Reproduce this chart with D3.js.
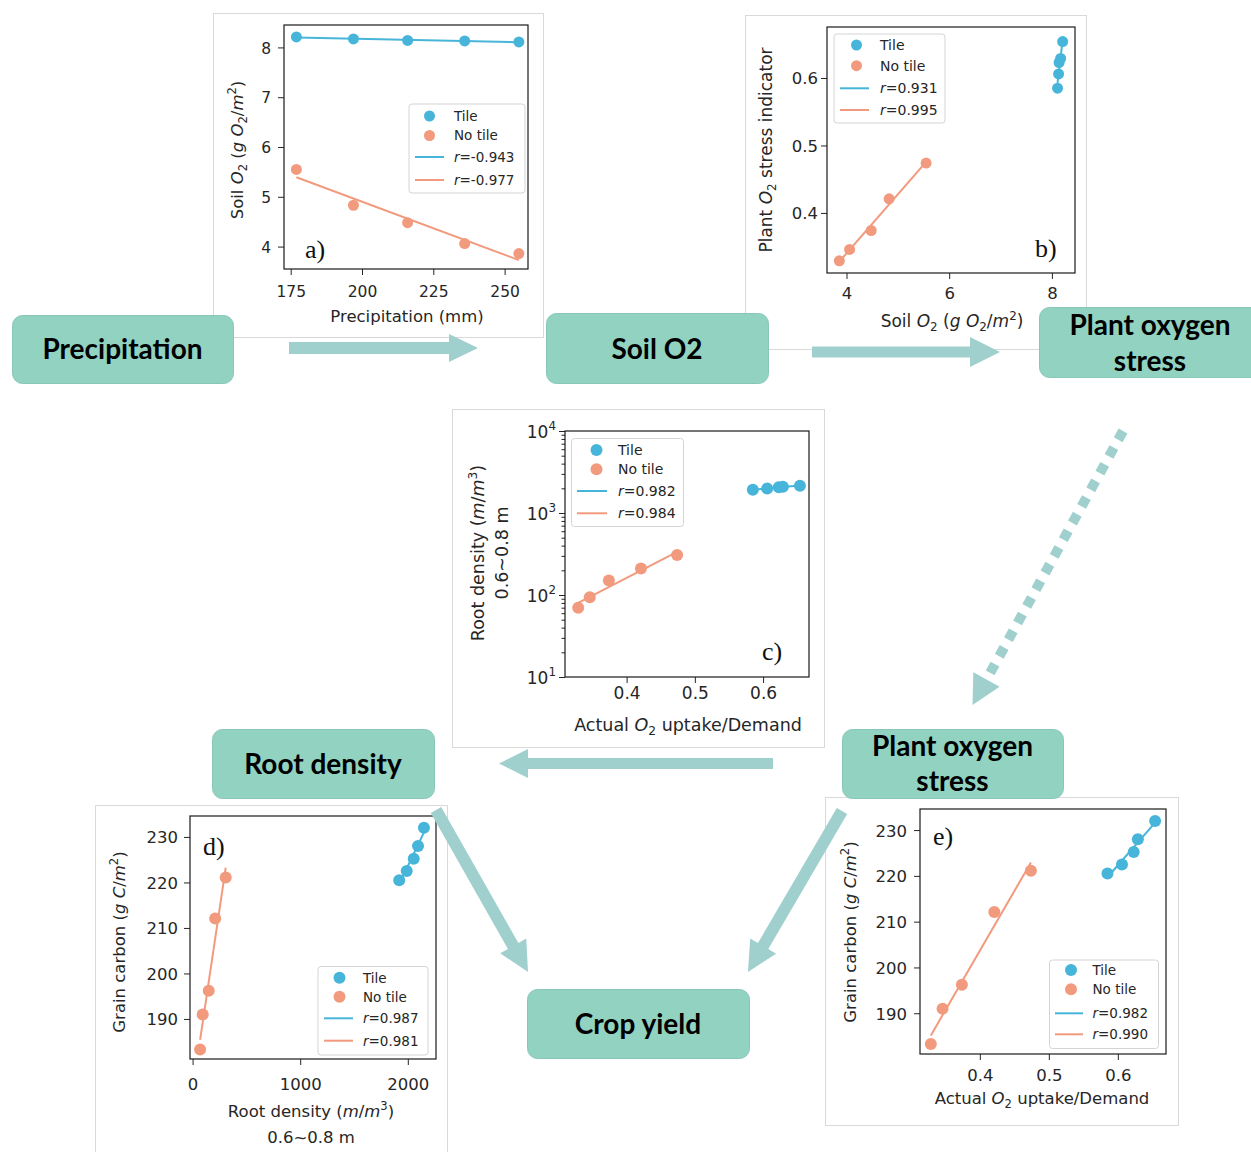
<!DOCTYPE html>
<html>
<head>
<meta charset="utf-8">
<script src="https://cdn.jsdelivr.net/npm/d3@7"></script>
<style>
	body { margin: 0; background: #fff; }
	svg { display: block; }
</style>
</head>
<body>
<div id="chart"></div>
<script>
/* global d3 */

// ---- data, every list in precipitation order ----
var precip       = [177, 197, 216, 236, 255];
var soilTile     = [8.21, 8.17, 8.14, 8.13, 8.11];
var soilNoTile   = [5.55, 4.83, 4.48, 4.06, 3.86];
var stressTile   = [0.654, 0.629, 0.623, 0.606, 0.585];
var stressNoTile = [0.474, 0.421, 0.374, 0.346, 0.329];
var rootTile     = [2150, 2095, 2055, 1990, 1920];
var rootNoTile   = [308, 210, 150, 94, 70];
var grainTile    = [232.0, 228.0, 225.2, 222.5, 220.5];
var grainNoTile  = [221.1, 212.1, 196.2, 191.0, 183.3];

var seriesNames = ['Tile', 'No tile'];
var rA = ['-0.943', '-0.977'];
var rB = ['0.931', '0.995'];
var rC = ['0.982', '0.984'];
var rD = ['0.987', '0.981'];
var rE = ['0.982', '0.990'];

var ticksAx = [175, 200, 225, 250], ticksAy = [4, 5, 6, 7, 8];
var ticksBx = [4, 6, 8],            ticksBy = [0.4, 0.5, 0.6];
var ticksCx = [0.4, 0.5, 0.6],      ticksCy = [10, 100, 1000, 10000];
var ticksDx = [0, 1000, 2000],      ticksDy = [190, 200, 210, 220, 230];
var ticksEx = [0.4, 0.5, 0.6],      ticksEy = [190, 200, 210, 220, 230];

var boxLabels = [['Precipitation'], ['Soil O2'], ['Plant oxygen', 'stress'], ['Root density'], ['Plant oxygen', 'stress'], ['Crop yield']];

// label pieces: [text, format]  format: '' | 'i' | 'sub' | 'sup'
var labSoil   = [['Soil ', ''], ['O', 'i'], ['2', 'sub'], [' (', ''], ['g O', 'i'], ['2', 'sub'], ['/', ''], ['m', 'i'], ['2', 'sup'], [')', '']];
var labPrecip = [['Precipitation (mm)', '']];
var labStress = [['Plant ', ''], ['O', 'i'], ['2', 'sub'], [' stress indicator', '']];
var labUptake = [['Actual ', ''], ['O', 'i'], ['2', 'sub'], [' uptake/Demand', '']];
var labRoot   = [['Root density (', ''], ['m', 'i'], ['/', ''], ['m', 'i'], ['3', 'sup'], [')', '']];
var labDepth  = [['0.6~0.8 m', '']];
var labGrain  = [['Grain carbon (', ''], ['g C', 'i'], ['/', ''], ['m', 'i'], ['2', 'sup'], [')', '']];

var colTile = '#47b5d9', colNo = '#f29a7d';
var boxFill = '#91d2c1', arrowFill = '#9fd0cd';
var sans = '"DejaVu Sans", sans-serif';

var svg = d3.select('#chart').append('svg').attr('width', 1251).attr('height', 1152);

function rich (sel, parts, fs) {
	var shift = 0;
	parts.forEach(function (p) {
		var ts = sel.append('tspan').text(p[0]);
		var target = p[1] === 'sub' ? fs * 0.25 : (p[1] === 'sup' ? -fs * 0.42 : 0);
		if (target !== shift) { ts.attr('dy', target - shift); }
		shift = target;
		if (p[1] === 'i') { ts.attr('font-style', 'italic'); }
		if (p[1] === 'sub' || p[1] === 'sup') { ts.attr('font-size', fs * 0.7); }
	});
	return sel;
}

function fit (xs, ys, logY) {
	var yy = logY ? ys.map(function (v) { return Math.log10(v); }) : ys;
	var mx = d3.mean(xs), my = d3.mean(yy);
	var sxy = d3.sum(xs, function (v, i) { return (v - mx) * (yy[i] - my); });
	var sxx = d3.sum(xs, function (v) { return (v - mx) * (v - mx); });
	var k = sxy / sxx;
	return function (v) { var r = my + k * (v - mx); return logY ? Math.pow(10, r) : r; };
}

function drawPanel (p) {
	var g = svg.append('g');
	g.append('rect')
		.attr('x', p.img[0] + 0.5).attr('y', p.img[1] + 0.5)
		.attr('width', p.img[2]).attr('height', p.img[3])
		.attr('fill', '#fff').attr('stroke', '#d9d9d9');

	var x = d3.scaleLinear().domain(p.xDom).range([p.l, p.r]);
	var y = (p.log ? d3.scaleLog() : d3.scaleLinear()).domain(p.yDom).range([p.b, p.t]);

	var xa = g.append('g')
		.attr('transform', 'translate(0,' + p.b + ')')
		.call(d3.axisBottom(x).tickValues(p.xTicks).tickSize(6).tickFormat(d3.format('')));
	xa.select('.domain').remove();
	xa.attr('font-family', sans).attr('font-size', p.fs).style('color', '#262626');
	xa.selectAll('text').attr('y', p.xTickY).attr('dy', null);

	var ya = g.append('g')
		.attr('transform', 'translate(' + p.l + ',0)')
		.call(d3.axisLeft(y).tickValues(p.yTicks).tickSize(6).tickFormat(d3.format('')));
	ya.select('.domain').remove();
	ya.attr('font-family', sans).attr('font-size', p.fs).style('color', '#262626');
	ya.selectAll('text').attr('x', -p.yTickX).attr('dy', '0.36em');

	if (p.log) {
		ya.selectAll('.tick text').each(function (d) {
			var t = d3.select(this).text(null);
			rich(t, [['10', ''], [String(Math.round(Math.log10(d))), 'sup']], p.fs);
		});
		var minors = [];
		[10, 100, 1000].forEach(function (base) {
			for (var m = 2; m <= 9; m++) { minors.push(base * m); }
		});
		var mg = g.append('g')
			.attr('transform', 'translate(' + p.l + ',0)')
			.call(d3.axisLeft(y).tickValues(minors).tickSize(3.5).tickFormat(''));
		mg.select('.domain').remove();
		mg.style('color', '#262626');
	}

	// fitted lines
	var line = d3.line().x(function (d) { return x(d[0]); }).y(function (d) { return y(d[1]); });
	[[p.tx, p.ty, colTile], [p.nx, p.ny, colNo]].forEach(function (s) {
		var f = fit(s[0], s[1], p.log);
		var ext = d3.extent(s[0]);
		g.append('path')
			.attr('d', line([[ext[0], f(ext[0])], [ext[1], f(ext[1])]]))
			.attr('fill', 'none').attr('stroke', s[2]).attr('stroke-width', 2);
	});

	// points
	[[p.tx, p.ty, colTile], [p.nx, p.ny, colNo]].forEach(function (s) {
		g.selectAll(null)
			.data(s[0].map(function (v, i) { return [v, s[1][i]]; }))
			.enter().append('circle')
				.attr('cx', function (d) { return x(d[0]); })
				.attr('cy', function (d) { return y(d[1]); })
				.attr('r', p.mr)
				.attr('fill', s[2]);
	});

	g.append('rect')
		.attr('x', p.l).attr('y', p.t)
		.attr('width', p.r - p.l).attr('height', p.b - p.t)
		.attr('fill', 'none').attr('stroke', '#1a1a1a').attr('stroke-width', 1.2);

	// legend
	var L = p.leg;
	var lg = g.append('g').attr('font-family', sans).attr('font-size', L.fs).attr('fill', '#262626');
	lg.append('rect')
		.attr('x', L.x).attr('y', L.y).attr('width', L.w).attr('height', L.h).attr('rx', 3)
		.attr('fill', '#fff').attr('fill-opacity', 0.85).attr('stroke', '#d4d4d4');
	[colTile, colNo].forEach(function (c, i) {
		lg.append('circle').attr('cx', L.mx).attr('cy', L.rows[i]).attr('r', p.mr).attr('fill', c);
		lg.append('text').attr('x', L.tx).attr('y', L.rows[i] + L.fs * 0.36).text(seriesNames[i]);
		lg.append('line')
			.attr('x1', L.lx1).attr('x2', L.lx2).attr('y1', L.rows[i + 2]).attr('y2', L.rows[i + 2])
			.attr('stroke', c).attr('stroke-width', 2);
		rich(lg.append('text').attr('x', L.tx).attr('y', L.rows[i + 2] + L.fs * 0.36),
			[['r', 'i'], ['=' + p.r2[i], '']], L.fs);
	});

	// panel letter
	g.append('text')
		.attr('x', p.letter[1]).attr('y', p.letter[2])
		.attr('font-family', '"Liberation Serif", "Times New Roman", serif')
		.attr('font-size', 26).attr('fill', '#111')
		.text(p.letter[0]);

	// axis labels
	p.xLab.forEach(function (lab) {
		rich(g.append('text')
			.attr('x', lab.x).attr('y', lab.y)
			.attr('text-anchor', 'middle')
			.attr('font-family', sans).attr('font-size', p.lfs).attr('fill', '#262626'), lab.parts, p.lfs);
	});
	p.yLab.forEach(function (lab) {
		rich(g.append('text')
			.attr('x', lab.x).attr('y', lab.y)
			.attr('transform', 'rotate(-90,' + lab.x + ',' + lab.y + ')')
			.attr('text-anchor', 'middle')
			.attr('font-family', sans).attr('font-size', p.lfs).attr('fill', '#262626'), lab.parts, p.lfs);
	});
}

drawPanel({
	img: [213, 13, 330, 324], l: 284, r: 528, t: 25, b: 269,
	xDom: [172.65, 258.2], yDom: [3.55, 8.45], xTicks: ticksAx, yTicks: ticksAy,
	fs: 15.5, lfs: 16.5, xTickY: 28, yTickX: 13, mr: 5.5,
	tx: precip, ty: soilTile, nx: precip, ny: soilNoTile, r2: rA,
	leg: {x: 409, y: 104, w: 116, h: 89, rows: [116, 135.5, 157, 180], mx: 429.5, lx1: 415, lx2: 444, tx: 454, fs: 13.5},
	letter: ['a)', 305, 258],
	xLab: [{x: 407, y: 322, parts: labPrecip}],
	yLab: [{x: 243, y: 150, parts: labSoil}]
});

drawPanel({
	img: [745, 15, 341, 334], l: 827, r: 1075, t: 27, b: 273,
	xDom: [3.62, 8.45], yDom: [0.311, 0.6756], xTicks: ticksBx, yTicks: ticksBy,
	fs: 16.5, lfs: 17, xTickY: 25.5, yTickX: 9, mr: 5.5,
	tx: soilTile, ty: stressTile, nx: soilNoTile, ny: stressNoTile, r2: rB,
	leg: {x: 834, y: 34, w: 111, h: 89, rows: [45, 65.7, 88.3, 110], mx: 856.5, lx1: 840, lx2: 869, tx: 880, fs: 14},
	letter: ['b)', 1035, 257],
	xLab: [{x: 952, y: 327, parts: labSoil}],
	yLab: [{x: 772, y: 150, parts: labStress}]
});

drawPanel({
	img: [452, 409, 372, 338], l: 565, r: 809, t: 431, b: 677, log: true,
	xDom: [0.3097, 0.6673], yDom: [10, 10000], xTicks: ticksCx, yTicks: ticksCy,
	fs: 17, lfs: 17.5, xTickY: 21.5, yTickX: 9, mr: 6,
	tx: stressTile, ty: rootTile, nx: stressNoTile, ny: rootNoTile, r2: rC,
	leg: {x: 571.5, y: 438.5, w: 112, h: 88, rows: [450, 469.3, 491, 513.3], mx: 596.5, lx1: 577, lx2: 607, tx: 618, fs: 14},
	letter: ['c)', 762, 660],
	xLab: [{x: 688, y: 731, parts: labUptake}],
	yLab: [{x: 484, y: 553, parts: labRoot}, {x: 508, y: 553, parts: labDepth}]
});

drawPanel({
	img: [95, 805, 352, 360], l: 190, r: 436, t: 816, b: 1059,
	xDom: [-24, 2262], yDom: [181.2, 234.6], xTicks: ticksDx, yTicks: ticksDy,
	fs: 16.5, lfs: 16.5, xTickY: 30.5, yTickX: 12, mr: 6,
	tx: rootTile, ty: grainTile, nx: rootNoTile, ny: grainNoTile, r2: rD,
	leg: {x: 318, y: 966.5, w: 110, h: 88.5, rows: [977.7, 996.7, 1018.3, 1040.7], mx: 339.5, lx1: 324, lx2: 353, tx: 363, fs: 13.5},
	letter: ['d)', 203, 855],
	xLab: [{x: 311, y: 1117, parts: labRoot}, {x: 311, y: 1143, parts: labDepth}],
	yLab: [{x: 125, y: 942, parts: labGrain}]
});

drawPanel({
	img: [825, 797, 353, 328], l: 920, r: 1166, t: 809, b: 1054,
	xDom: [0.3133, 0.6698], yDom: [181.1, 234.6], xTicks: ticksEx, yTicks: ticksEy,
	fs: 16.5, lfs: 16.5, xTickY: 27, yTickX: 13, mr: 6,
	tx: stressTile, ty: grainTile, nx: stressNoTile, ny: grainNoTile, r2: rE,
	leg: {x: 1049.5, y: 960, w: 109, h: 88.5, rows: [970, 989.3, 1013.3, 1034.3], mx: 1071, lx1: 1055, lx2: 1083, tx: 1092.5, fs: 13.5},
	letter: ['e)', 933, 845],
	xLab: [{x: 1042, y: 1103.5, parts: labUptake}],
	yLab: [{x: 856, y: 932, parts: labGrain}]
});

// ---- arrows ----
function arrowPoints (x1, y1, x2, y2, sw, hw, hl) {
	var len = Math.hypot(x2 - x1, y2 - y1);
	var ux = (x2 - x1) / len, uy = (y2 - y1) / len;
	var nx = -uy, ny = ux;
	var bx = x2 - ux * hl, by = y2 - uy * hl;
	var pts = [
		[x1 + nx * sw / 2, y1 + ny * sw / 2],
		[bx + nx * sw / 2, by + ny * sw / 2],
		[bx + nx * hw / 2, by + ny * hw / 2],
		[x2, y2],
		[bx - nx * hw / 2, by - ny * hw / 2],
		[bx - nx * sw / 2, by - ny * sw / 2],
		[x1 - nx * sw / 2, y1 - ny * sw / 2]
	];
	return pts.map(function (q) { return q.join(','); }).join(' ');
}

var arrows = svg.append('g').attr('fill', arrowFill);
arrows.append('polygon').attr('points', arrowPoints(289, 348, 478, 348, 12, 28, 29));
arrows.append('polygon').attr('points', arrowPoints(812, 352, 1000, 352, 11, 30, 30));
arrows.append('polygon').attr('points', arrowPoints(773, 763.5, 499, 763.5, 11, 29, 29));
arrows.append('polygon').attr('points', arrowPoints(436, 810, 528, 972, 12, 30, 30));
arrows.append('polygon').attr('points', arrowPoints(842, 811, 748, 972, 12, 30, 30));

// dashed arrow
(function () {
	var x1 = 1123, y1 = 431, x2 = 972.5, y2 = 705, hl = 29;
	var len = Math.hypot(x2 - x1, y2 - y1);
	var ux = (x2 - x1) / len, uy = (y2 - y1) / len;
	arrows.append('line')
		.attr('x1', x1).attr('y1', y1)
		.attr('x2', x2 - ux * (hl - 2)).attr('y2', y2 - uy * (hl - 2))
		.attr('stroke', arrowFill).attr('stroke-width', 10)
		.attr('stroke-dasharray', '10,9');
	var bx = x2 - ux * hl, by = y2 - uy * hl, nx = -uy, ny = ux;
	arrows.append('polygon').attr('points', [
		[bx + nx * 15, by + ny * 15], [x2, y2], [bx - nx * 15, by - ny * 15]
	].map(function (q) { return q.join(','); }).join(' '));
})();

// ---- boxes ----
var boxPos = [
	{x: 12, y: 315, w: 221, h: 68, lines: [358.5]},
	{x: 546, y: 313, w: 222, h: 70, lines: [358.5]},
	{x: 1039, y: 307, w: 222, h: 70, lines: [335, 371], cx: 1150},
	{x: 212, y: 729, w: 222, h: 69, lines: [774]},
	{x: 842, y: 729, w: 221, h: 69, lines: [756, 791]},
	{x: 527, y: 989, w: 222, h: 69, lines: [1034]}
];

var boxes = svg.append('g');
boxPos.forEach(function (b, i) {
	boxes.append('rect')
		.attr('x', b.x + 0.5).attr('y', b.y + 0.5).attr('width', b.w).attr('height', b.h).attr('rx', 10)
		.attr('fill', boxFill).attr('stroke', '#88c7b7').attr('stroke-width', 1);
	boxLabels[i].forEach(function (txt, j) {
		boxes.append('text')
			.attr('x', b.cx || (b.x + b.w / 2)).attr('y', b.lines[j])
			.attr('text-anchor', 'middle')
			.attr('font-family', 'Lato, "Open Sans", sans-serif')
			.attr('font-weight', 700).attr('font-size', 28).attr('fill', '#000')
			.text(txt);
	});
});
</script>
</body>
</html>
